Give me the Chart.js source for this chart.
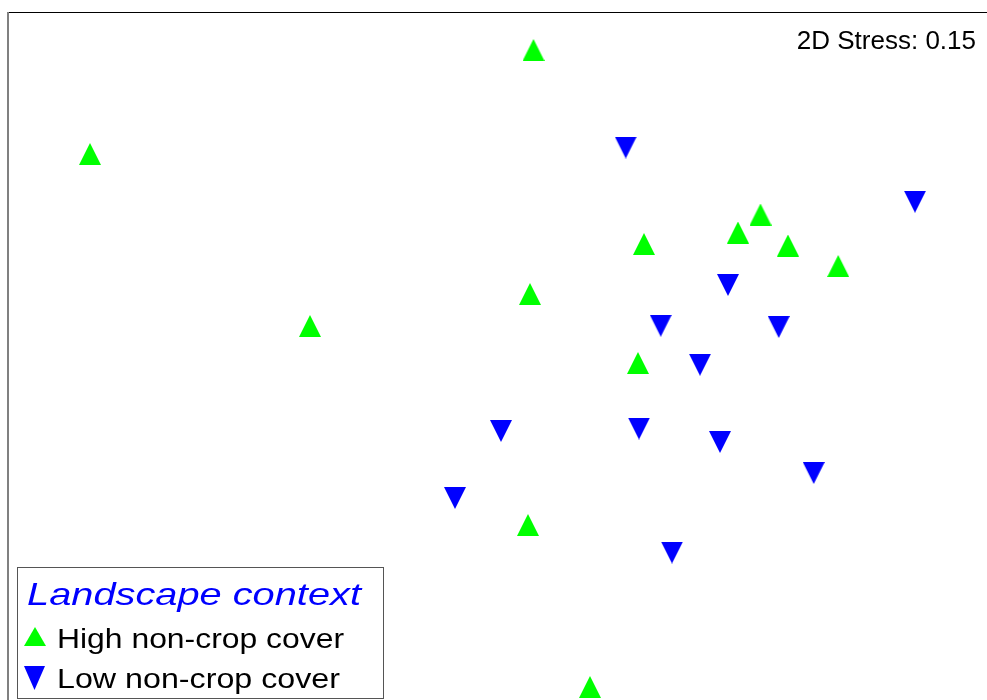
<!DOCTYPE html>
<html>
<head>
<meta charset="utf-8">
<script src="https://cdn.jsdelivr.net/npm/chart.js@4.4.1/dist/chart.umd.min.js"></script>
<style>
  html, body { margin: 0; padding: 0; background: #ffffff; }
  canvas { display: block; }
</style>
</head>
<body>
<canvas id="nmds" width="987" height="700"></canvas>
<script>
// NMDS ordination of sites, grouped by landscape context
const stressLabel = '2D Stress: 0.15';
const legendTitle = 'Landscape context';
const groupNames = ['High non-crop cover', 'Low non-crop cover'];

// High non-crop cover sites (NMDS1, NMDS2)
const highX = [0.134, -1.640, 1.042, 0.952, 0.576, 1.152, 1.353, 0.120, -0.760, 0.552, 0.112, 0.360];
const highY = [1.200, 0.784, 0.542, 0.470, 0.424, 0.418, 0.336, 0.224, 0.096, -0.052, -0.700, -1.348];

// Low non-crop cover sites (NMDS1, NMDS2)
const lowX = [0.503, 1.660, 0.912, 0.643, 1.115, 0.800, 0.004, 0.556, 0.880, 1.255, -0.180, 0.688];
const lowY = [0.810, 0.593, 0.260, 0.097, 0.092, -0.059, -0.324, -0.314, -0.368, -0.492, -0.592, -0.810];

const GREEN = '#00ff00';
const BLUE = '#0000ff';
const FONT = '"Liberation Sans", Arial, Helvetica, sans-serif';

// Filled triangle marker drawn into its own small canvas
function triangleMarker(color, pointsUp, w, h) {
  const c = document.createElement('canvas');
  c.width = w;
  c.height = h;
  const g = c.getContext('2d');
  g.fillStyle = color;
  g.beginPath();
  if (pointsUp) {
    g.moveTo(w / 2, 0);
    g.lineTo(w, h);
    g.lineTo(0, h);
  } else {
    g.moveTo(0, 0);
    g.lineTo(w, 0);
    g.lineTo(w / 2, h);
  }
  g.closePath();
  g.fill();
  return c;
}

const upMarker = triangleMarker(GREEN, true, 22, 22);
const downMarker = triangleMarker(BLUE, false, 22, 22);

const toPoints = (xs, ys) => xs.map((x, i) => ({ x: x, y: ys[i] }));

// Draw text starting at x, stretched horizontally to the given width
function stretchedText(ctx, text, x, y, width) {
  const natural = ctx.measureText(text).width;
  ctx.save();
  ctx.translate(x, y);
  ctx.scale(width / natural, 1);
  ctx.fillText(text, 0, 0);
  ctx.restore();
}

const decorations = {
  id: 'decorations',
  beforeDatasetsDraw(chart) {
    const ctx = chart.ctx;
    ctx.save();
    // plot frame
    ctx.fillStyle = '#000000';
    ctx.fillRect(7, 12, 980, 1);
    ctx.fillStyle = '#808080';
    ctx.fillRect(7, 12, 2, 688);
    // stress annotation
    ctx.fillStyle = '#000000';
    ctx.font = '26px ' + FONT;
    ctx.textAlign = 'right';
    ctx.textBaseline = 'alphabetic';
    ctx.fillText(stressLabel, 976, 49);
    ctx.restore();
  },
  afterDatasetsDraw(chart) {
    const ctx = chart.ctx;
    const sets = chart.data.datasets;
    ctx.save();
    // legend box
    ctx.fillStyle = '#ffffff';
    ctx.fillRect(17, 567, 367, 131);
    ctx.strokeStyle = '#555555';
    ctx.lineWidth = 1;
    ctx.strokeRect(17.5, 567.5, 366, 131);
    ctx.textAlign = 'left';
    ctx.textBaseline = 'alphabetic';
    // legend title
    ctx.fillStyle = BLUE;
    ctx.font = 'italic 32px ' + FONT;
    stretchedText(ctx, legendTitle, 27, 605, 334);
    // legend entries
    const legendUp = triangleMarker(sets[0].backgroundColor, true, 22, 19);
    const legendDown = triangleMarker(sets[1].backgroundColor, false, 21, 24);
    ctx.drawImage(legendUp, 24, 627);
    ctx.drawImage(legendDown, 24, 666);
    ctx.fillStyle = '#000000';
    ctx.font = '28px ' + FONT;
    stretchedText(ctx, sets[0].label, 57, 648, 287);
    stretchedText(ctx, sets[1].label, 57, 688, 283);
    ctx.restore();
  }
};

new Chart(document.getElementById('nmds'), {
  type: 'scatter',
  data: {
    datasets: [
      {
        label: groupNames[0],
        data: toPoints(highX, highY),
        pointStyle: upMarker,
        pointRadius: 11,
        backgroundColor: GREEN,
        borderColor: GREEN,
        clip: false
      },
      {
        label: groupNames[1],
        data: toPoints(lowX, lowY),
        pointStyle: downMarker,
        pointRadius: 11,
        backgroundColor: BLUE,
        borderColor: BLUE,
        clip: false
      }
    ]
  },
  options: {
    responsive: false,
    animation: false,
    events: [],
    layout: { padding: 0, autoPadding: false },
    plugins: {
      legend: { display: false },
      tooltip: { enabled: false }
    },
    scales: {
      x: { type: 'linear', display: false, min: -2.0, max: 1.948 },
      y: { type: 'linear', display: false, min: -1.4, max: 1.4 }
    }
  },
  plugins: [decorations]
});
</script>
</body>
</html>
